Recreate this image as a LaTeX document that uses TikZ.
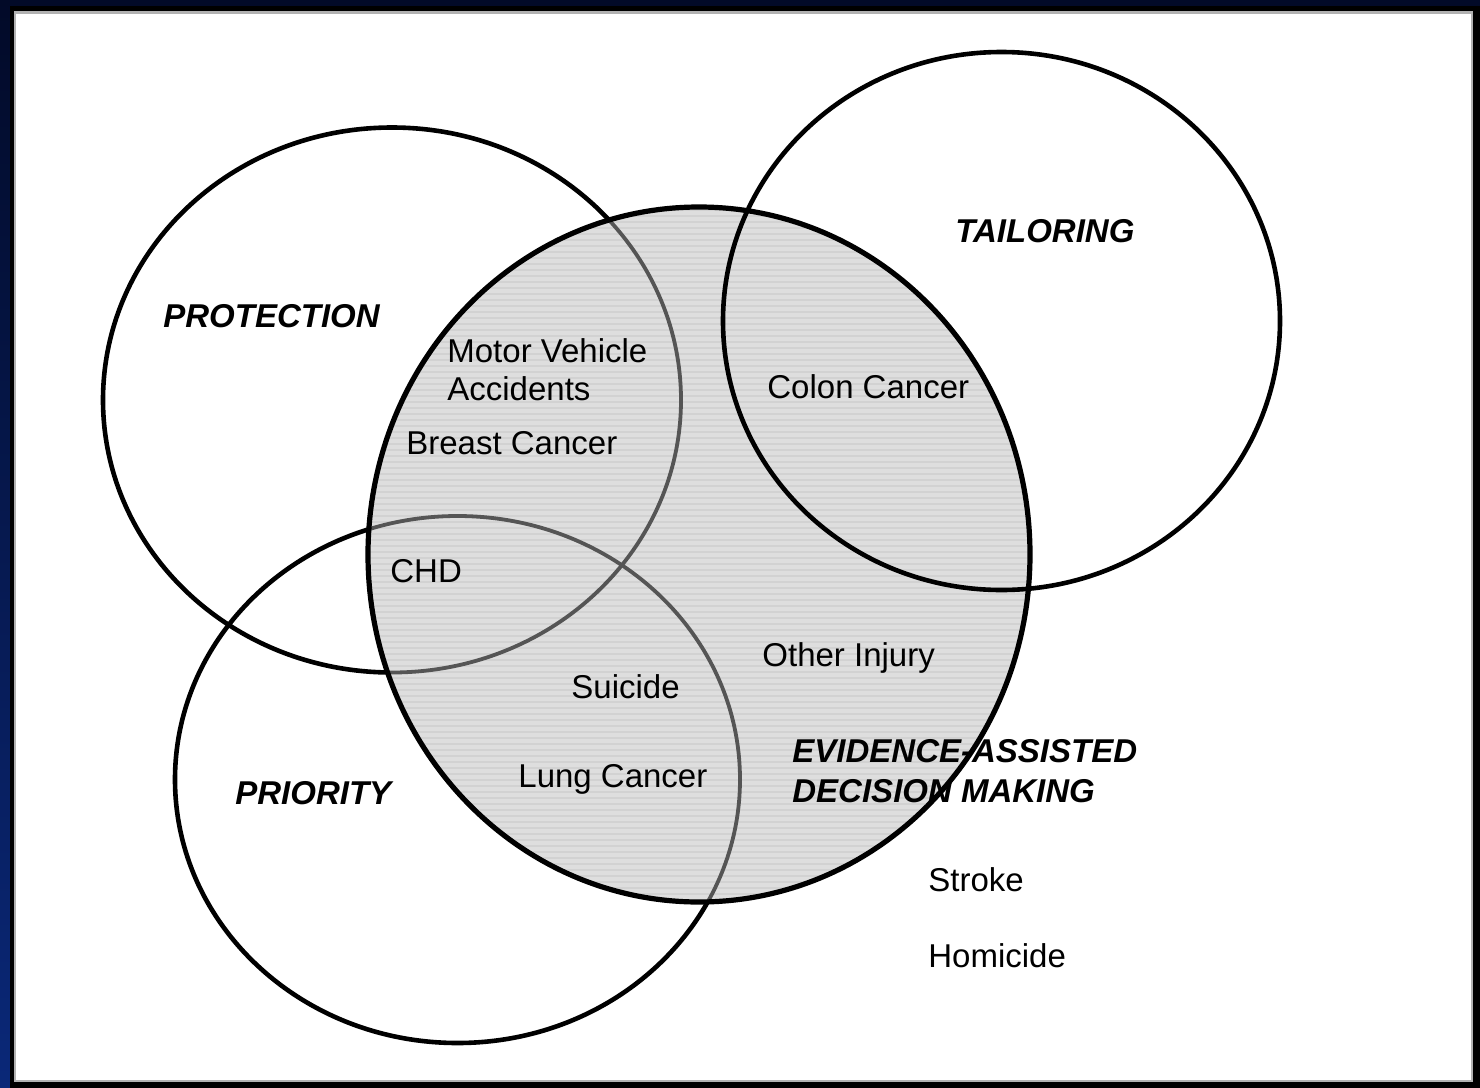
\documentclass[tikz,border=0pt]{standalone}
\usepackage{fontspec}
\setmainfont{Liberation Sans}
\definecolor{navytop}{RGB}{2,10,40}
\definecolor{navybot}{RGB}{10,40,120}
\definecolor{evidgray}{RGB}{222,222,222}
\definecolor{evidstripe}{RGB}{210,210,210}
\definecolor{inner}{RGB}{85,85,85}
\tikzset{
  circ/.style={draw=black, line width=2.3pt},
  innercirc/.style={draw=inner, line width=1.9pt},
  lbl/.style={inner sep=0pt, anchor=base west, font=\fontsize{16.5}{19}\selectfont},
  head/.style={lbl, font=\fontsize{16.5}{19}\selectfont\bfseries\itshape},
}
\begin{document}
\begin{tikzpicture}[x=0.5pt,y=-0.5pt]
\useasboundingbox (0,0) rectangle (1480,1088);
% frame
\shade[top color=navytop, bottom color=navybot] (0,0) rectangle (1480,1088);
\fill[black] (10,6) rectangle (1480,1088);
\fill[gray!60] (14,11) rectangle (1473,1082);
\fill[white] (16,14) rectangle (1471,1080);
% protection and priority (outside parts)
\draw[circ] (392,400) ellipse [x radius=289, y radius=272.5];
\draw[circ] (457.5,779.5) ellipse [x radius=282.5, y radius=263.5];
% evidence shaded area
\begin{scope}
  \clip (699,554.5) ellipse [x radius=331, y radius=347.5];
  \fill[evidgray] (360,200) rectangle (1040,910);
  \foreach \yy in {210,216,...,905} \draw[evidstripe, line width=0.6pt] (360,\yy) -- (1040,\yy);
  \draw[innercirc] (392,400) ellipse [x radius=289, y radius=272.5];
  \draw[innercirc] (457.5,779.5) ellipse [x radius=282.5, y radius=263.5];
\end{scope}
% tailoring
\draw[circ] (1001.5,321) ellipse [x radius=278.5, y radius=269];
% evidence outline
\draw[circ, line width=2.6pt] (699,554.5) ellipse [x radius=331, y radius=347.5];
% labels
\node[head] (protection) at (163,327) {PROTECTION};
\node[head] (tailoring) at (955,242) {TAILORING};
\node[head] (priority) at (235,804) {PRIORITY};
\node[head] (evid1) at (792,762) {EVIDENCE-ASSISTED};
\node[head] (evid2) at (792,802) {DECISION MAKING};
\node[lbl] (mva1) at (447,362) {Motor Vehicle};
\node[lbl] (mva2) at (447,400) {Accidents};
\node[lbl] (breast) at (406,454) {Breast Cancer};
\node[lbl] (colon) at (767,398) {Colon Cancer};
\node[lbl] (chd) at (390,582) {CHD};
\node[lbl] (other) at (762,666) {Other Injury};
\node[lbl] (suicide) at (571,698) {Suicide};
\node[lbl] (lung) at (518,787) {Lung Cancer};
\node[lbl] (stroke) at (928,891) {Stroke};
\node[lbl] (homicide) at (928,967) {Homicide};
\end{tikzpicture}
\end{document}
